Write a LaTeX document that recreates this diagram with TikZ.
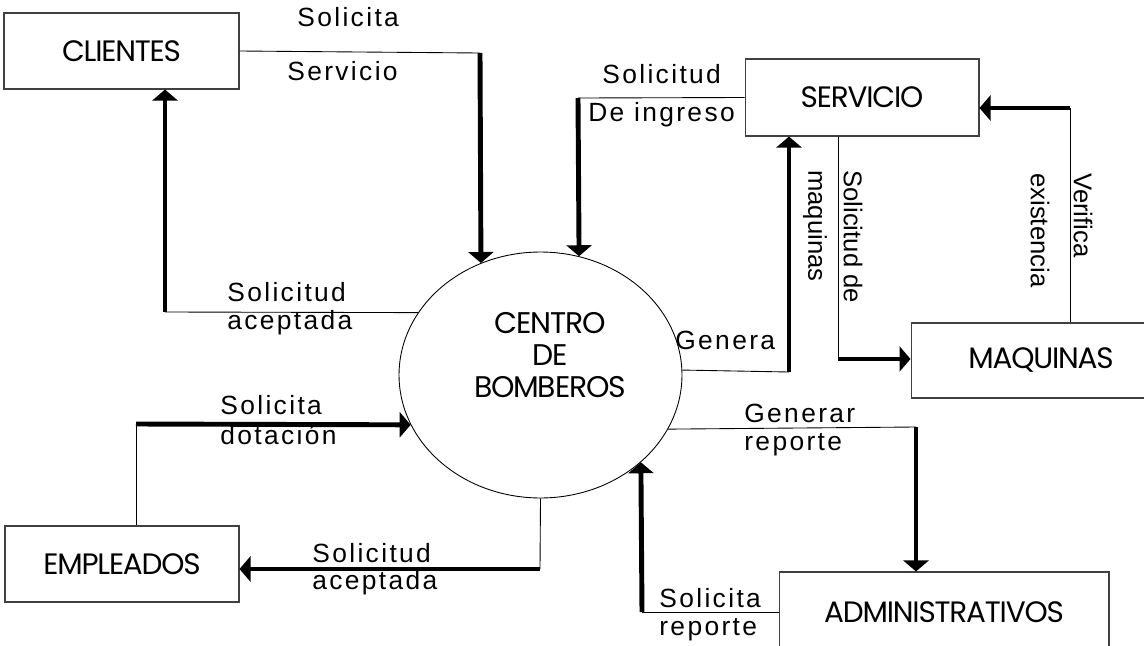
\documentclass[tikz,border=0pt]{standalone}
\usepackage{fontspec}
\setmainfont{Liberation Sans}
\newfontfamily\boxfont{Poppins}[LetterSpace=-4]
\newfontfamily\labelfont{Liberation Sans}[LetterSpace=9]
\usetikzlibrary{shapes.geometric,arrows.meta}

\begin{document}
\begin{tikzpicture}[x=0.02cm,y=-0.02cm,
    ent/.style={draw=black!75,line width=0.6pt,minimum width=#1,minimum height=1.52cm,inner sep=0pt,font=\boxfont\fontsize{16.8}{19}\selectfont},
    lbl/.style={font=\labelfont\fontsize{15}{17}\selectfont,inner sep=0pt,anchor=west},
    vlbl/.style={font=\fontsize{14.6}{17}\selectfont,inner sep=0pt,rotate=-90,anchor=west},
    thin/.style={line width=0.5pt},
    flow/.style={line width=2.8pt,-{Triangle[length=0.22cm,width=0.5cm]}}]
    \useasboundingbox (0,0) rectangle (1144,646);
    \clip (0,0) rectangle (1144,646);
    \node[ent=4.7cm] (clientes) at (121.5,51) {CLIENTES};
    \node[ent=4.68cm,minimum height=1.54cm] (servicio) at (862,97.5) {SERVICIO};
    \node[ent=5.2cm,minimum height=1.5cm] (maquinas) at (1041,360.5) {MAQUINAS};
    \node[ent=4.68cm] (empleados) at (122,564) {EMPLEADOS};
    \node[ent=6.6cm,minimum height=1.6cm] (admin) at (944,612) {ADMINISTRATIVOS};
    \node[ellipse,draw,line width=0.5pt,minimum width=5.66cm,minimum height=4.92cm,inner sep=0pt] (centro) at (540.5,375) {};
    \node[font=\boxfont\fontsize{17}{18.2}\selectfont,align=center,inner sep=0pt] (centrotxt) at (550,355) {CENTRO\\DE\\BOMBEROS};
    \node[lbl] (l1a) at (297,17) {Solicita};
    \node[lbl] (l1b) at (287,71) {Servicio};
    \node[lbl] (l2a) at (227,292) {Solicitud};
    \node[lbl] (l2b) at (227,323) {aceptada};
    \node[lbl] (l3a) at (602,74) {Solicitud};
    \node[lbl] (l3b) at (588,115) {De ingreso};
    \node[lbl] (l4) at (675,340) {Genera};
    \node[lbl] (l7a) at (220,405) {Solicita};
    \node[lbl] (l7b) at (220,435) {dotación};
    \node[lbl] (l8a) at (312,553) {Solicitud};
    \node[lbl] (l8b) at (312,583) {aceptada};
    \node[lbl] (l9a) at (744,413) {Generar};
    \node[lbl] (l9b) at (744,445) {reporte};
    \node[lbl] (l10a) at (659,598) {Solicita};
    \node[lbl] (l10b) at (659,630) {reporte};
    \node[vlbl] (l5a) at (853,170) {Solicitud de};
    \node[vlbl] (l5b) at (815,170) {maquinas};
    \node[vlbl] (l6a) at (1083,173) {Verifica};
    \node[vlbl] (l6b) at (1040,173) {existencia};
    \coordinate (k1) at (480,53);
    \coordinate (k2) at (165,312);
    \coordinate (k3) at (578,98);
    \coordinate (k4) at (789,372);
    \coordinate (k5) at (838,359);
    \coordinate (k6) at (1070,108);
    \coordinate (k7) at (136,424);
    \coordinate (k8) at (540,569);
    \coordinate (k9) at (916,427);
    \coordinate (k10) at (642,612);
    \draw[thin] (clientes.east) -- (k1);
    \draw[flow] (k1) -- (centro.118.5);
    \draw[thin] (centro.153.6) -- (k2);
    \draw[flow] (k2) -- (k2 |- clientes.south);
    \draw[thin] (servicio.west) -- (k3);
    \draw[flow] (k3) -- (centro.72.45);
    \draw[thin] (centro.2.4) -- (k4);
    \draw[flow] (k4) -- (k4 |- servicio.south);
    \draw[thin] (k5 |- servicio.south) -- (k5);
    \draw[flow] (k5) -- (k5 -| maquinas.west);
    \draw[thin] (k6 |- maquinas.north) -- (k6);
    \draw[flow] (k6) -- (k6 -| servicio.east);
    \draw[thin] (k7 |- empleados.north) -- (k7);
    \draw[flow] (k7) -- (centro.201.1);
    \draw[thin] (centro.south) -- (k8);
    \draw[flow] (k8) -- (k8 -| empleados.east);
    \draw[thin] (centro.337.9) -- (k9);
    \draw[flow] (k9) -- (k9 |- admin.north);
    \draw[thin] (admin.west) -- (k10);
    \draw[flow] (k10) -- (centro.319.8);
\end{tikzpicture}
\end{document}
